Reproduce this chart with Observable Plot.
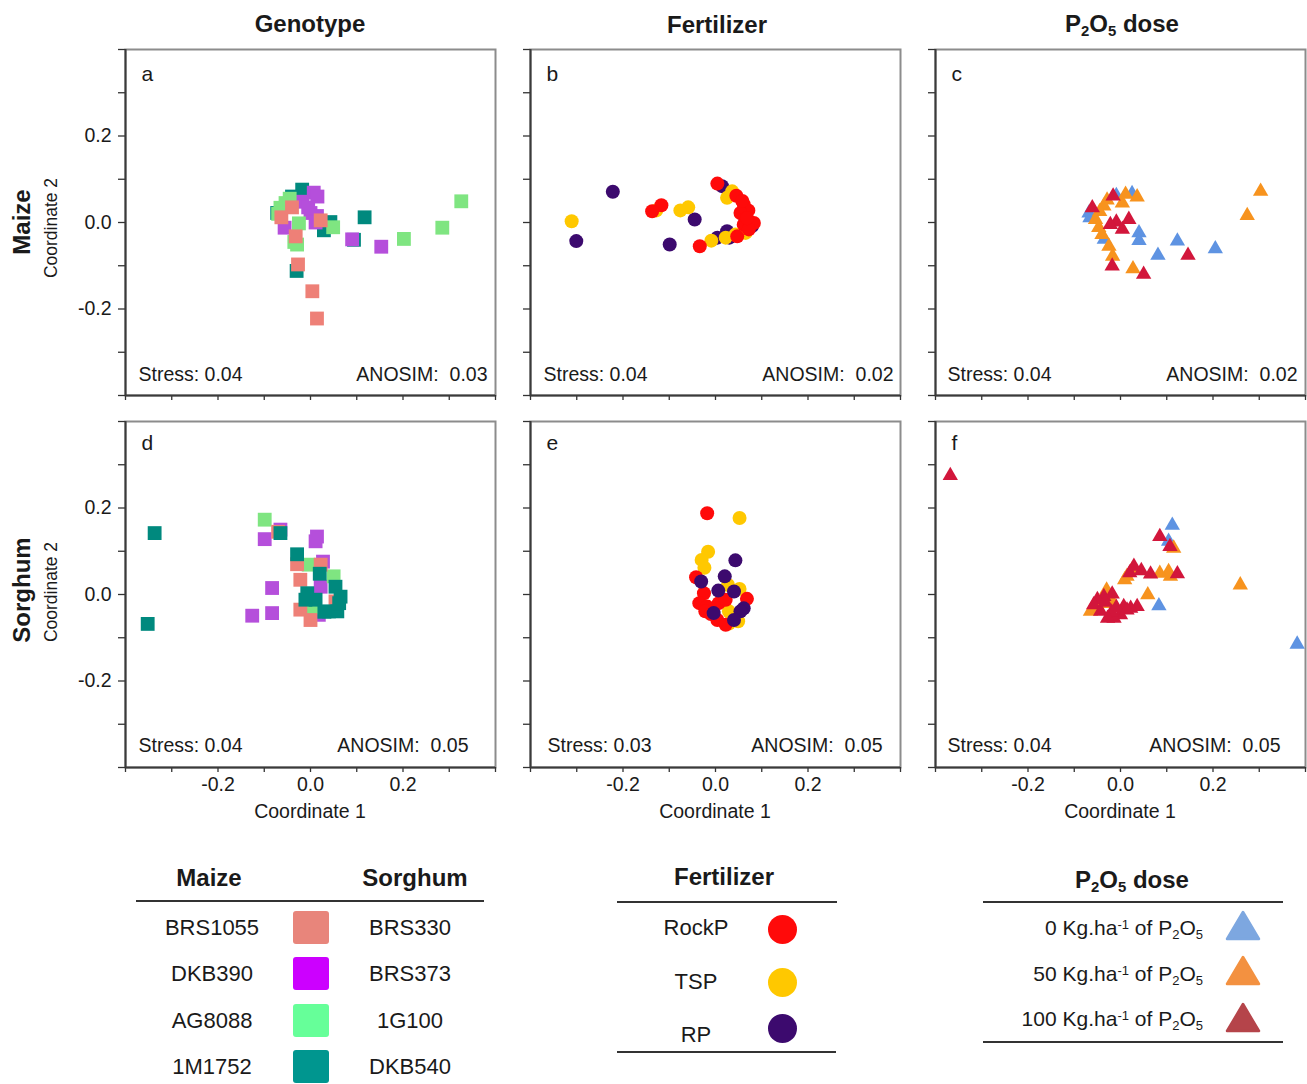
<!DOCTYPE html>
<html><head><meta charset="utf-8">
<script src="https://cdn.jsdelivr.net/npm/d3@7"></script>
<script src="https://cdn.jsdelivr.net/npm/@observablehq/plot@0.6"></script>
<style>
body{margin:0;background:#fff;font-family:"Liberation Sans",Arial,sans-serif;color:#1a1a1a}
#root{position:relative;width:1307px;height:1084px;overflow:hidden;background:#fff}
.t{position:absolute;white-space:pre;line-height:1;transform:translate(-50%,-50%)}
.r{position:absolute;white-space:pre;line-height:1;transform:translate(-100%,-50%)}
.rot{position:absolute;white-space:pre;line-height:1;transform:translate(-50%,-50%) rotate(-90deg)}
.b{font-weight:bold}
sub,sup{font-size:0.62em;line-height:0;position:relative;vertical-align:baseline}
sub{top:0.3em} sup{top:-0.5em}
.hl{position:absolute;height:2px;background:#333}
</style></head><body><div id="root"></div><script>
// ---------- categories & colours ----------
const maizeGenotypes = ["BRS1055","DKB390","AG8088","1M1752"];
const sorghumGenotypes = ["BRS330","BRS373","1G100","DKB540"];
const genotypeColors = ["#EE8077","#B54FDB","#7FE581","#00897E"];
const genotypeLegendColors = ["#E8857B","#CC00FF","#66FF99","#00968F"];
const fertilizers = ["RockP","TSP","RP"];
const fertilizerColors = ["#FF0A0A","#FFC800","#3C0A6E"];
const doses = ["0","50","100"];
const doseColors = ["#5E93E2","#F7931E","#D2163B"];
const doseLegendColors = ["#7DA7E0","#F39140","#B5444A"];
const axisTicks = [-0.4,-0.3,-0.2,-0.1,0,0.1,0.2,0.3,0.4];
const labeledTicks = [-0.2,0,0.2];

// ---------- panel a (Maize, genotype) ----------
const a_1M1752 = [[0.117,0.012],[0.043,0.001],[0.029,-0.018],[-0.018,0.076],[-0.072,0.022],[-0.030,-0.112],[0.094,-0.040],[-0.040,0.060],[0.030,-0.002]];
const a_DKB390 = [[0.007,0.069],[-0.018,0.048],[0.0,0.022],[0.014,0.015],[0.011,0.0],[-0.056,-0.012],[0.090,-0.039],[0.153,-0.056],[0.015,0.060],[-0.005,0.035]];
const a_AG8088 = [[0.326,0.049],[0.285,-0.012],[0.202,-0.038],[0.049,-0.011],[-0.054,0.045],[-0.065,0.034],[-0.025,-0.002],[-0.029,-0.051],[-0.035,-0.045],[-0.045,0.055],[-0.070,0.020]];
const a_BRS1055 = [[-0.063,0.012],[-0.032,-0.032],[-0.027,-0.097],[0.004,-0.159],[0.014,-0.222],[0.022,0.005],[-0.040,0.035]];
// ---------- panel b (Maize, fertilizer) ----------
const b_RP = [[-0.301,-0.043],[-0.222,0.071],[-0.045,0.007],[-0.099,-0.051],[0.004,-0.035],[0.025,-0.020],[0.014,0.084],[0.065,0.007],[0.079,-0.008],[0.030,-0.035]];
const b_TSP = [[-0.311,0.003],[-0.128,0.028],[-0.076,0.028],[-0.059,0.035],[-0.009,-0.042],[0.022,-0.035],[0.043,-0.028],[0.025,0.057],[0.036,0.072],[0.065,-0.024]];
const b_RockP = [[-0.117,0.040],[-0.137,0.026],[-0.034,-0.055],[0.004,0.090],[0.045,0.062],[0.061,0.042],[0.071,0.028],[0.054,0.022],[0.083,-0.001],[0.061,-0.005],[0.072,-0.016],[0.047,-0.032],[0.068,0.010],[0.058,0.050]];
// ---------- panel c (Maize, dose) ----------
const c_0 = [[0.205,-0.061],[0.123,-0.043],[0.081,-0.076],[0.040,-0.024],[0.040,-0.042],[-0.035,-0.039],[-0.068,0.022],[-0.066,0.011],[-0.009,0.062],[0.025,0.067]];
const c_50 = [[0.303,0.072],[0.274,0.016],[0.027,-0.107],[-0.017,-0.078],[-0.025,-0.055],[-0.054,0.007],[-0.047,-0.012],[-0.040,-0.028],[-0.036,0.038],[-0.029,0.052],[0.004,0.045],[0.011,0.065],[0.036,0.059],[-0.045,0.025]];
const c_100 = [[0.146,-0.076],[0.050,-0.120],[-0.018,-0.101],[0.018,0.007],[0.004,-0.016],[-0.009,0.001],[-0.022,-0.005],[-0.061,0.034],[-0.016,0.061]];
// ---------- panel d (Sorghum, genotype) ----------
const d_DKB540 = [[-0.337,0.142],[-0.352,-0.068],[-0.065,0.142],[-0.029,0.093],[0.020,0.048],[0.054,0.018],[-0.007,0.003],[0.011,-0.012],[-0.011,-0.012],[0.065,-0.005],[0.040,-0.039],[0.058,-0.039],[0.062,-0.020],[0.030,-0.040]];
const d_BRS373 = [[-0.065,0.150],[-0.099,0.128],[0.014,0.134],[0.011,0.123],[0.027,0.076],[-0.083,0.015],[-0.126,-0.049],[-0.083,-0.043],[0.022,0.018],[0.018,-0.047]];
const d_1G100 = [[-0.099,0.173],[-0.004,0.069],[0.050,0.042],[0.005,-0.030]];
const d_BRS330 = [[-0.029,0.070],[0.022,0.069],[-0.022,0.034],[0.054,-0.016],[-0.022,-0.035],[0.0,-0.059],[-0.070,0.145]];
// ---------- panel e (Sorghum, fertilizer) ----------
const e_RockP = [[-0.018,0.188],[-0.042,0.040],[-0.025,0.003],[0.068,-0.010],[-0.035,-0.020],[-0.018,-0.028],[0.007,-0.020],[0.022,-0.012],[-0.022,-0.039],[0.004,-0.059],[0.022,-0.070],[-0.010,-0.045]];
const e_TSP = [[0.052,0.177],[-0.016,0.099],[-0.030,0.080],[-0.024,0.062],[0.027,0.022],[0.052,0.013],[0.029,-0.039],[0.049,-0.062],[0.029,-0.067]];
const e_RP = [[0.043,0.079],[-0.031,0.030],[0.020,0.042],[0.006,0.009],[0.040,0.007],[0.061,-0.032],[0.054,-0.039],[-0.004,-0.043],[0.040,-0.059]];
// ---------- panel f (Sorghum, dose) ----------
const f_0 = [[0.112,0.160],[0.104,0.123],[0.382,-0.115],[0.083,-0.026]];
const f_50 = [[0.115,0.107],[0.259,0.022],[0.059,-0.001],[0.108,0.042],[0.104,0.053],[0.085,0.049],[0.025,0.057],[0.014,0.042],[0.009,0.034],[-0.018,-0.016],[-0.019,-0.021],[-0.065,-0.039],[-0.058,-0.036],[-0.047,-0.021],[-0.030,0.010]];
const f_100 = [[-0.368,0.275],[0.085,0.134],[0.107,0.111],[0.123,0.048],[0.065,0.047],[0.045,0.055],[0.029,0.065],[0.020,0.050],[0.036,-0.028],[0.022,-0.032],[0.007,-0.028],[0.0,-0.047],[-0.014,-0.055],[-0.019,-0.041],[-0.018,0.001],[-0.036,-0.005],[-0.050,-0.012],[-0.058,-0.024],[-0.043,-0.039],[-0.033,-0.018],[-0.009,-0.030],[0.014,-0.036],[-0.028,-0.055]];

const stressValues = ["0.04","0.04","0.04","0.04","0.03","0.04"];
const anosimValues = ["0.03","0.02","0.02","0.05","0.05","0.05"];

// ---------- helpers ----------
const root = document.getElementById("root");
function txt(html, x, y, size, cls="t", extra="") {
  const d = document.createElement("div");
  d.className = cls;
  d.style.cssText += `left:${x}px;top:${y}px;font-size:${size}px;${extra}`;
  d.innerHTML = html;
  root.appendChild(d);
  return d;
}
function hline(x, y, w) {
  const d = document.createElement("div");
  d.className = "hl";
  d.style.cssText += `left:${x}px;top:${y}px;width:${w}px`;
  root.appendChild(d);
}
const fmt = d => labeledTicks.some(v => Math.abs(v - d) < 1e-9) ? d.toFixed(1) : "";
const FONT = "Liberation Sans, Arial, sans-serif";

function panel(cfg) {
  const ML = 50, MR = 6, MT = 4, MB = 34, W = 370, H = 346;
  const rows = cfg.series.flatMap(([name, pts]) => pts.map(([x, y]) => ({x, y, g: name})));
  const plot = Plot.plot({
    width: W + ML + MR, height: H + MT + MB,
    marginLeft: ML, marginRight: MR, marginTop: MT, marginBottom: MB,
    style: {fontFamily: FONT, fontSize: "19.5px", color: "#1a1a1a", background: "transparent", overflow: "visible"},
    x: {domain: [-0.4, 0.4]},
    y: {domain: [-0.4, 0.4]},
    color: {domain: cfg.domain, range: cfg.colors},
    marks: [
      Plot.frame({stroke: "#8c8c8c", strokeWidth: 2}),
      Plot.axisX({ticks: axisTicks, tickSize: 5, tickPadding: 5, stroke: "#333", strokeWidth: 1.3,
                  tickFormat: cfg.xLabels ? fmt : () => "", label: null, fontSize: 19.5}),
      Plot.axisY({ticks: axisTicks, tickSize: 7, tickPadding: 7, stroke: "#333", strokeWidth: 1.3,
                  tickFormat: cfg.yLabels ? fmt : () => "", label: null, fontSize: 19.5}),
      Plot.ruleX([-0.4], {stroke: "#3a3a3a", strokeWidth: 2}),
      Plot.ruleY([-0.4], {stroke: "#3a3a3a", strokeWidth: 2}),
      Plot.dot(rows, {x: "x", y: "y", fill: "g", symbol: cfg.symbol, r: cfg.r}),
      Plot.text([cfg.letter], {frameAnchor: "top-left", dx: 16, dy: cfg.letterDy, lineAnchor: "middle", fontSize: 21, fill: "#1a1a1a"}),
      Plot.text(["Stress: " + cfg.stress], {frameAnchor: "bottom-left", dx: cfg.sdx, dy: cfg.tdy, lineAnchor: "middle", fontSize: 19.5, fill: "#1a1a1a"}),
      Plot.text(["ANOSIM:\u00a0 " + cfg.anosim], {frameAnchor: "bottom-right", dx: cfg.adx, dy: cfg.tdy, lineAnchor: "middle", fontSize: 19.5, fill: "#1a1a1a"})
    ]
  });
  plot.style.position = "absolute";
  plot.style.left = (cfg.left - ML) + "px";
  plot.style.top = (cfg.top - MT) + "px";
  root.appendChild(plot);
}

const colLeft = [125, 530, 935];
const rowTop = [49, 421];
const SQ = 7.8, CI = 7, TR = 5.7;

panel({left: colLeft[0], top: rowTop[0], letter: "a", letterDy: 25, stress: stressValues[0], anosim: anosimValues[0], sdx: 13, adx: -8, tdy: -21,
  symbol: "square", r: SQ, domain: maizeGenotypes, colors: genotypeColors, yLabels: true, xLabels: false,
  series: [["1M1752", a_1M1752], ["DKB390", a_DKB390], ["AG8088", a_AG8088], ["BRS1055", a_BRS1055]]});
panel({left: colLeft[1], top: rowTop[0], letter: "b", letterDy: 25, stress: stressValues[1], anosim: anosimValues[1], sdx: 13, adx: -7, tdy: -21,
  symbol: "circle", r: CI, domain: fertilizers, colors: fertilizerColors, yLabels: false, xLabels: false,
  series: [["RP", b_RP], ["TSP", b_TSP], ["RockP", b_RockP]]});
panel({left: colLeft[2], top: rowTop[0], letter: "c", letterDy: 25, stress: stressValues[2], anosim: anosimValues[2], sdx: 12, adx: -8, tdy: -21,
  symbol: "triangle", r: TR, domain: doses, colors: doseColors, yLabels: false, xLabels: false,
  series: [["0", c_0], ["50", c_50], ["100", c_100]]});
panel({left: colLeft[0], top: rowTop[1], letter: "d", letterDy: 22, stress: stressValues[3], anosim: anosimValues[3], sdx: 13, adx: -27, tdy: -22,
  symbol: "square", r: SQ, domain: sorghumGenotypes, colors: genotypeColors, yLabels: true, xLabels: true,
  series: [["BRS373", d_BRS373], ["1G100", d_1G100], ["BRS330", d_BRS330], ["DKB540", d_DKB540]]});
panel({left: colLeft[1], top: rowTop[1], letter: "e", letterDy: 22, stress: stressValues[4], anosim: anosimValues[4], sdx: 17, adx: -18, tdy: -22,
  symbol: "circle", r: CI, domain: fertilizers, colors: fertilizerColors, yLabels: false, xLabels: true,
  series: [["TSP", e_TSP], ["RockP", e_RockP], ["RP", e_RP]]});
panel({left: colLeft[2], top: rowTop[1], letter: "f", letterDy: 22, stress: stressValues[5], anosim: anosimValues[5], sdx: 12, adx: -25, tdy: -22,
  symbol: "triangle", r: TR, domain: doses, colors: doseColors, yLabels: false, xLabels: true,
  series: [["0", f_0], ["50", f_50], ["100", f_100]]});

// ---------- headers & axis titles ----------
txt("Genotype", 310, 24, 24, "t b");
txt("Fertilizer", 717, 25, 24, "t b");
txt("P<sub>2</sub>O<sub>5</sub> dose", 1122, 24, 24, "t b");
txt("Maize", 22, 222, 24, "rot b");
txt("Coordinate 2", 52, 228, 17.5, "rot");
txt("Sorghum", 22, 590, 24, "rot b");
txt("Coordinate 2", 52, 592, 17.5, "rot");
[310, 715, 1120].forEach(x => txt("Coordinate 1", x, 812, 19.5));

// ---------- legends ----------
const legendRowsY = [928, 974, 1021, 1067];
txt("Maize", 209, 878, 24, "t b");
txt("Sorghum", 415, 878, 24, "t b");
hline(136, 900, 348);
maizeGenotypes.forEach((n, i) => {
  txt(n, 212, legendRowsY[i], 22);
  txt(sorghumGenotypes[i], 410, legendRowsY[i], 22);
  const s = document.createElement("div");
  s.style.cssText = `position:absolute;left:${311-18}px;top:${legendRowsY[i]-17}px;width:36px;height:33px;border-radius:3px;background:${genotypeLegendColors[i]}`;
  root.appendChild(s);
});

txt("Fertilizer", 724, 877, 24, "t b");
hline(617, 901, 220);
hline(617, 1051, 219);
const fertTextY = [928, 982, 1035], fertDotY = [929, 982, 1028];
fertilizers.forEach((n, i) => {
  txt(n, 696, fertTextY[i], 22);
  const c = document.createElement("div");
  c.style.cssText = `position:absolute;left:${782-14.5}px;top:${fertDotY[i]-14.5}px;width:29px;height:29px;border-radius:50%;background:${fertilizerColors[i]}`;
  root.appendChild(c);
});

txt("P<sub>2</sub>O<sub>5</sub> dose", 1132, 880, 24, "t b");
hline(983, 901, 300);
hline(983, 1041, 300);
const doseTextY = [927, 973, 1018], doseTriY = [925, 970, 1017];
doses.forEach((n, i) => {
  txt(`${n} Kg.ha<sup>-1</sup> of P<sub>2</sub>O<sub>5</sub>`, 1203, doseTextY[i], 21, "r");
  const ns = "http://www.w3.org/2000/svg";
  const svg = document.createElementNS(ns, "svg");
  svg.setAttribute("width", 36); svg.setAttribute("height", 31);
  svg.style.cssText = `position:absolute;left:${1243-18}px;top:${doseTriY[i]-15.5}px`;
  const p = document.createElementNS(ns, "path");
  p.setAttribute("d", "M18,2 L34,29 L2,29 Z");
  p.setAttribute("fill", doseLegendColors[i]);
  p.setAttribute("stroke", doseLegendColors[i]);
  p.setAttribute("stroke-width", 2.5);
  p.setAttribute("stroke-linejoin", "round");
  svg.appendChild(p);
  root.appendChild(svg);
});
</script></body></html>
